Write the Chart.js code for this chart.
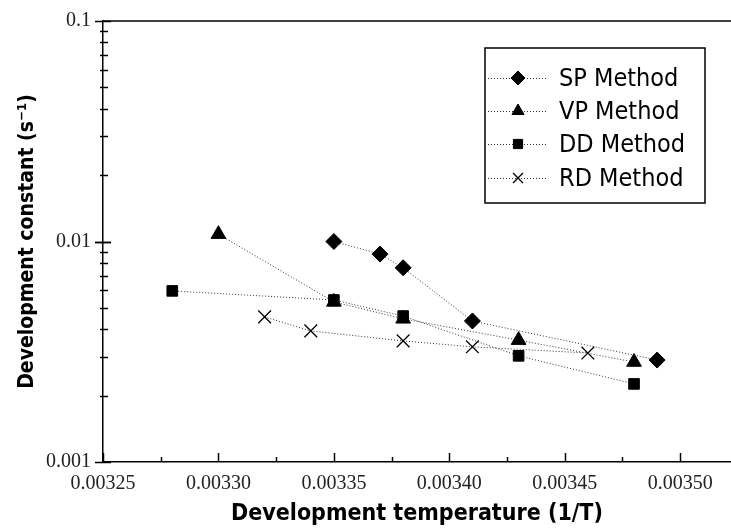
<!DOCTYPE html>
<html>
<head>
<meta charset="utf-8">
<script src="https://cdn.jsdelivr.net/npm/chart.js@4/dist/chart.umd.min.js"></script>
<style>
  html, body { margin: 0; padding: 0; background: #fff; }
</style>
</head>
<body>
<canvas id="devChart" width="731" height="528"></canvas>
<script>
// 1/T values and development constants
var spX = [0.00335, 0.00337, 0.00338, 0.00341, 0.00349];
var spY = [0.0100, 0.00877, 0.0076, 0.00436, 0.0029];
var vpX = [0.00330, 0.00335, 0.00338, 0.00343, 0.00348];
var vpY = [0.0108, 0.00532, 0.00446, 0.00357, 0.00284];
var ddX = [0.00328, 0.00335, 0.00338, 0.00343, 0.00348];
var ddY = [0.00597, 0.00543, 0.00459, 0.00303, 0.00226];
var rdX = [0.00332, 0.00334, 0.00338, 0.00341, 0.00346];
var rdY = [0.00455, 0.00393, 0.00354, 0.00333, 0.00312];
var seriesNames = ["SP Method", "VP Method", "DD Method", "RD Method"];
var xTicks = [0.00325, 0.00330, 0.00335, 0.00340, 0.00345, 0.00350];
var yTicks = [0.001, 0.01, 0.1];

function pts(xs, ys) {
  return xs.map(function (x, i) { return {x: x, y: ys[i]}; });
}

function series(label, xs, ys, style, r) {
  return {
    label: label,
    data: pts(xs, ys),
    showLine: true,
    borderColor: '#333',
    borderWidth: 1,
    borderDash: [1, 2],
    pointStyle: style,
    pointRadius: r,
    pointHoverRadius: r,
    pointBackgroundColor: '#000',
    pointBorderColor: '#000',
    pointBorderWidth: style === 'crossRot' ? 1.3 : 1
  };
}

var serif = "'Liberation Serif', 'DejaVu Serif', serif";
var narrow = "'DejaVu Sans Condensed', 'DejaVu Sans', sans-serif";

// inward ticks, top frame line and the boxed legend
var framePlugin = {
  id: 'frame',
  afterDraw: function (chart) {
    var ctx = chart.ctx, a = chart.chartArea;
    var xs = chart.scales.x, ys = chart.scales.y;
    ctx.save();
    ctx.strokeStyle = '#000';
    ctx.lineWidth = 1.5;
    ctx.beginPath();
    ctx.moveTo(a.left, a.top);
    ctx.lineTo(a.right, a.top);
    ctx.stroke();

    // x ticks (major + minor), pointing up
    for (var v = 0.00325; v <= 0.003501; v += 0.000025) {
      var px = Math.round(xs.getPixelForValue(v)) + 0.5;
      var major = Math.abs((v / 0.00005) - Math.round(v / 0.00005)) < 1e-6;
      ctx.beginPath();
      ctx.moveTo(px, a.bottom);
      ctx.lineTo(px, a.bottom - (major ? 9 : 5));
      ctx.stroke();
    }
    // y ticks, log decades with minors
    for (var d = 0.001; d < 0.1; d *= 10) {
      for (var m = 1; m <= 10; m++) {
        var py = Math.round(ys.getPixelForValue(d * m)) + 0.5;
        var isMajor = (m === 1 || m === 10);
        ctx.beginPath();
        ctx.moveTo(a.left - (isMajor ? 8 : 3), py);
        ctx.lineTo(a.left + (isMajor ? 8 : 5), py);
        ctx.stroke();
      }
    }

    // legend box
    var bx = 485, by = 48, bw = 220, bh = 155;
    ctx.fillStyle = '#fff';
    ctx.fillRect(bx, by, bw, bh);
    ctx.strokeRect(bx, by, bw, bh);
    var rows = [78, 111, 144, 178];
    ctx.font = '25px ' + narrow;
    ctx.textBaseline = 'middle';
    chart.data.datasets.forEach(function (ds, i) {
      var y = rows[i];
      ctx.save();
      ctx.strokeStyle = '#333';
      ctx.lineWidth = 1;
      ctx.setLineDash([1, 2]);
      ctx.beginPath();
      ctx.moveTo(488, y + 0.5);
      ctx.lineTo(548, y + 0.5);
      ctx.stroke();
      ctx.restore();
      ctx.fillStyle = '#000';
      ctx.strokeStyle = '#000';
      ctx.lineWidth = ds.pointBorderWidth;
      Chart.helpers.drawPoint(ctx, {
        pointStyle: ds.pointStyle,
        radius: ds.pointStyle === 'rect' ? 6.5 : 7,
        borderWidth: ds.pointBorderWidth,
        rotation: 0
      }, 518, y);
      ctx.fillStyle = '#000';
      ctx.fillText(ds.label, 559, y + 1);
    });
    ctx.restore();
  }
};

new Chart(document.getElementById('devChart'), {
  type: 'scatter',
  data: {
    datasets: [
      series(seriesNames[0], spX, spY, 'rectRot', 8),
      series(seriesNames[1], vpX, vpY, 'triangle', 8.5),
      series(seriesNames[2], ddX, ddY, 'rect', 7.5),
      series(seriesNames[3], rdX, rdY, 'crossRot', 9)
    ]
  },
  options: {
    responsive: false,
    animation: false,
    layout: {autoPadding: false, padding: {top: 21, right: 0, left: 0, bottom: 0}},
    plugins: {
      legend: {display: false},
      tooltip: {enabled: false}
    },
    scales: {
      x: {
        type: 'linear',
        min: 0.00325,
        max: 0.003522,
        afterBuildTicks: function (s) {
          s.ticks = xTicks.map(function (v) { return {value: v}; });
        },
        afterFit: function (s) {
          s.height = 66;
          s.paddingLeft = 0;
          s.paddingRight = 0;
        },
        grid: {display: false, drawTicks: false},
        border: {display: true, color: '#000', width: 1.5},
        ticks: {
          color: '#222',
          padding: 10,
          maxRotation: 0,
          font: {family: serif, size: 20},
          callback: function (v) { return Number(v).toFixed(5); }
        },
        title: {
          display: true,
          text: 'Development temperature (1/T)',
          color: '#000',
          padding: {top: 0, bottom: 0},
          font: {family: narrow, size: 23, weight: 'bold'}
        }
      },
      y: {
        type: 'logarithmic',
        min: 0.001,
        max: 0.1,
        afterBuildTicks: function (s) {
          s.ticks = yTicks.map(function (v) { return {value: v}; });
        },
        afterFit: function (s) {
          s.width = 103;
          s.paddingTop = 0;
          s.paddingBottom = 0;
        },
        grid: {display: false, drawTicks: false},
        border: {display: true, color: '#000', width: 1.5},
        ticks: {
          color: '#222',
          padding: 12,
          font: {family: serif, size: 20},
          callback: function (v) { return String(v); }
        },
        title: {
          display: true,
          text: 'Development constant (s\u207B\u00B9)',
          color: '#000',
          padding: {top: 15, bottom: 4},
          font: {family: narrow, size: 21, weight: 'bold'}
        }
      }
    }
  },
  plugins: [framePlugin]
});
</script>
</body>
</html>
